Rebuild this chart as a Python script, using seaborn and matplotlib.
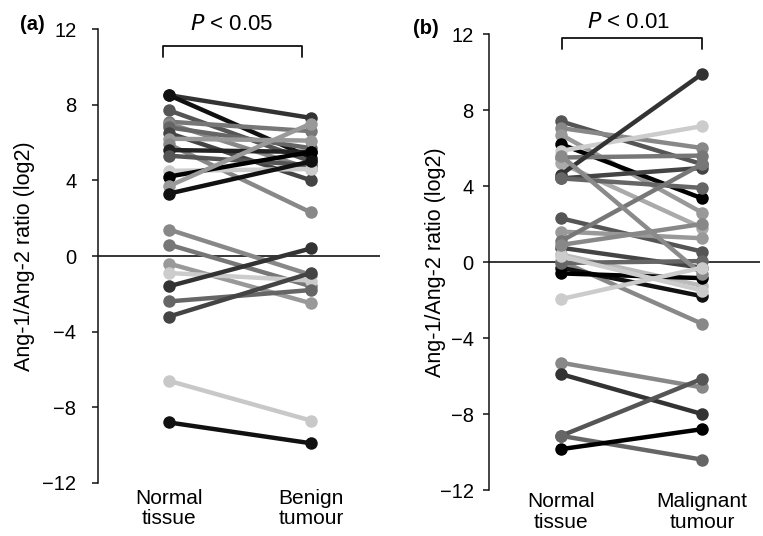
import numpy as np
import pandas as pd
import matplotlib
matplotlib.use("Agg")
import matplotlib.pyplot as plt
import seaborn as sns

# ---------------- data ----------------
conds_a = ["Normal\ntissue", "Benign\ntumour"]
conds_b = ["Normal\ntissue", "Malignant\ntumour"]
yticks = [12, 8, 4, 0, -4, -8, -12]

normal_a = [8.5, 8.5, 7.7, 7.1, 7.0, 6.8, 6.5, 6.2, 5.9, 5.6, 5.3, 4.5, 4.2, 3.7, 3.3,
            1.4, 0.6, -0.4, -0.9, -1.6, -2.4, -3.2, -6.6, -8.8]
benign_a = [7.3, 5.2, 5.0, 6.6, 4.6, 5.7, 4.0, 6.1, 2.3, 5.5, 4.8, 4.6, 5.5, 7.0, 5.0,
            -1.0, -1.6, -2.5, -1.3, 0.4, -1.8, -0.9, -8.7, -9.9]
gray_a = ["#333333", "#111111", "#555555", "#777777", "#888888", "#666666", "#444444",
          "#999999", "#888888", "#222222", "#555555", "#cccccc", "#000000", "#999999",
          "#111111", "#888888", "#777777", "#999999", "#cccccc", "#333333", "#666666",
          "#444444", "#c8c8c8", "#111111"]

normal_b = [7.4, 7.05, 6.7, 6.2, 5.85, 5.5, 5.2, 4.6, 4.4, 4.4, 2.3, 1.6, 1.1, 0.75,
            0.4, 0.05, -0.3, -0.6, -0.05, 0.3, 0.9, 5.6, -1.95, -5.3, -5.9, -9.15, -9.15, -9.85]
malig_b = [5.15, 6.0, 2.6, 3.35, 7.15, 5.6, 1.8, 9.9, 4.95, 3.9, 0.55, 1.25, 5.15, -0.3,
           -1.25, -3.25, -1.8, -0.85, 0.05, -1.5, 2.0, -0.65, -0.3, -6.6, -8.0, -6.15, -10.4, -8.8]
gray_b = ["#555555", "#888888", "#999999", "#000000", "#cccccc", "#777777", "#aaaaaa",
          "#333333", "#444444", "#666666", "#555555", "#999999", "#777777", "#444444",
          "#bbbbbb", "#888888", "#111111", "#000000", "#666666", "#cccccc", "#888888",
          "#8a8a8a", "#cccccc", "#888888", "#333333", "#555555", "#666666", "#000000"]


def make_df(n, t):
    rows = []
    for i, (a, b) in enumerate(zip(n, t)):
        rows.append({"id": i, "x": 0, "v": a})
        rows.append({"id": i, "x": 1, "v": b})
    return pd.DataFrame(rows)


sns.set_theme(style="white")
plt.rcParams["font.family"] = ["Liberation Sans", "DejaVu Sans"]
plt.rcParams["axes.unicode_minus"] = True
for k in ["text.color", "axes.labelcolor", "xtick.color", "ytick.color"]:
    plt.rcParams[k] = "black"

fig = plt.figure(figsize=(7.63, 5.36), dpi=100)
W, H = 763, 536

specs = [
    dict(left=98, right=380, top=29, bottom=483, x0=169, x1=311,
         n=normal_a, t=benign_a, g=gray_a, labels=conds_a, pad=11.5, xpad=4,
         ptext="P < 0.05", br=(-0.04, 0.94, 11.1, 10.5), ptx=0.44, pty=12.25,
         plabel="(a)", plx=32, ply=25, ylx=35),
    dict(left=489, right=760, top=34, bottom=490, x0=561, x1=702,
         n=normal_b, t=malig_b, g=gray_b, labels=conds_b, pad=7, xpad=1.5,
         ptext="P < 0.01", br=(0.01, 1.0, 11.8, 11.2), ptx=0.48, pty=12.6,
         plabel="(b)", plx=426, ply=28, ylx=446),
]

for s in specs:
    ax = fig.add_axes([s["left"] / W, 1 - s["bottom"] / H,
                       (s["right"] - s["left"]) / W, (s["bottom"] - s["top"]) / H])
    pxu = s["x1"] - s["x0"]
    ax.set_xlim((s["left"] - s["x0"]) / pxu, (s["right"] - s["x0"]) / pxu)
    ax.set_ylim(-12, 12)
    df = make_df(s["n"], s["t"])
    ax.axhline(0, color="black", lw=1.1, zorder=1)
    sns.lineplot(data=df, x="x", y="v", hue="id", palette=s["g"],
                 estimator=None, marker="o", markersize=9, markeredgewidth=0,
                 linewidth=3.2, legend=False, ax=ax, zorder=3)
    for sp in ["top", "right", "bottom"]:
        ax.spines[sp].set_visible(False)
    ax.spines["left"].set_color("#111111")
    ax.spines["left"].set_linewidth(1.1)
    ax.set_yticks(yticks)
    ax.set_yticklabels([str(v).replace("-", "\u2212") for v in yticks])
    ax.tick_params(axis="y", direction="out", length=4, width=1.1, color="#111111",
                   pad=s["pad"], labelsize=14.5, left=True)
    ax.set_xticks([0, 1])
    ax.set_xticklabels(s["labels"], fontsize=15, linespacing=1.12)
    ax.tick_params(axis="x", length=0, pad=s["xpad"])
    ax.set_xlabel("")
    ax.set_ylabel("Ang-1/Ang-2 ratio (log2)", fontsize=15.5)
    ax.yaxis.set_label_coords((s["ylx"] - s["left"]) / (s["right"] - s["left"]), 0.5)
    x0b, x1b, yt, yb = s["br"]
    ax.plot([x0b, x0b, x1b, x1b], [yb, yt, yt, yb], color="#111111", lw=1.3,
            clip_on=False)
    ptxt = s["ptext"]
    ax.text(s["ptx"], s["pty"], "$\\mathit{P}$" + ptxt[1:], ha="center", va="center",
            fontsize=16, clip_on=False)
    fig.text(s["plx"] / W, 1 - s["ply"] / H, s["plabel"], ha="center", va="center",
             fontsize=14.5, fontweight="bold")

fig.savefig("out.png", dpi=100)
